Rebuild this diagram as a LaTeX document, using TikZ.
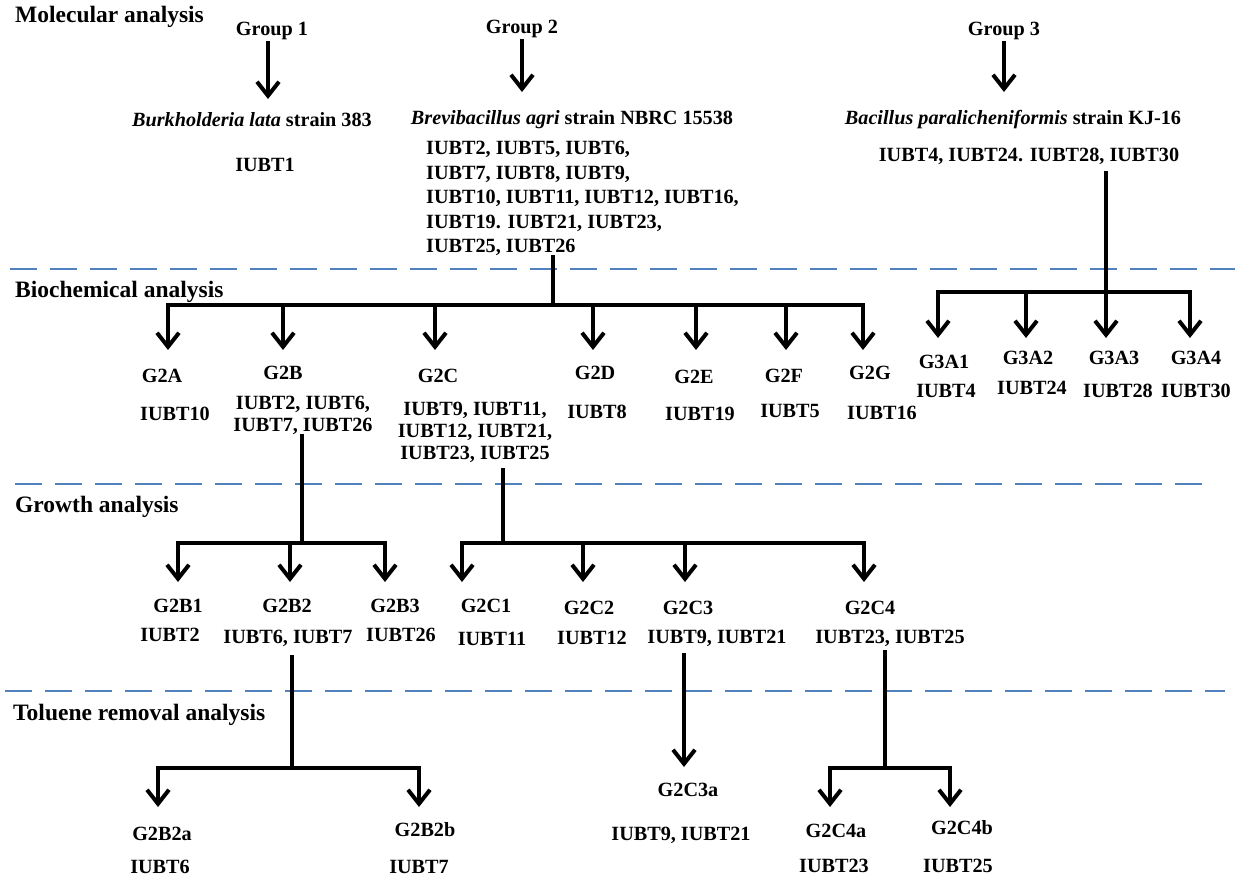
\documentclass[tikz,border=0pt]{standalone}
\usepackage{fontspec}
\setmainfont{Liberation Serif}
\usepackage{tikz}
\usetikzlibrary{arrows.meta, positioning}
\definecolor{sepblue}{RGB}{79,129,189}

\begin{document}
\begin{tikzpicture}[x=1pt, y=-1pt,
      every node/.style={font=\fontsize{20.2}{24}\selectfont\bfseries, inner sep=1pt},
      lb/.style={anchor=base},
      tt/.style={anchor=base west, font=\fontsize{23.5}{27}\selectfont\bfseries},
      ls/.style={anchor=north, align=center, font=\fontsize{20.2}{22}\selectfont\bfseries},
      sep/.style={draw=sepblue, line width=1.6pt, dash pattern=on 27pt off 13pt},
      ln/.style={line width=4pt, line cap=rect},
      ar/.style={line width=4pt, -{Straight Barb[length=14pt, width=22pt]}}]
      \useasboundingbox (0,0) rectangle (1248,877);
      % Separators
      \draw[sep] (10,269) -- (1235,269);
      \draw[sep] (15,484) -- (1205,484);
      \draw[sep] (5,691) -- (1225,691);
      % Section titles
      \node[tt] (mol) at (14,23) {Molecular analysis};
      \node[tt] (bio) at (14,298) {Biochemical analysis};
      \node[tt] (gro) at (14,512) {Growth analysis};
      \node[tt] (tol) at (12,720) {Toluene removal analysis};
      % Molecular analysis
      \node[lb] (grp1) at (272,36) {Group 1};
      \node[lb] (grp2) at (522,34) {Group 2};
      \node[lb] (grp3) at (1004,36) {Group 3};
      \node[lb] (sp1) at (252,127) {\textit{Burkholderia lata} strain 383};
      \node[lb] (sp2) at (572,125) {\textit{Brevibacillus agri} strain NBRC 15538};
      \node[lb] (sp3) at (1013,125) {\textit{Bacillus paralicheniformis} strain KJ-16};
      \node[lb] (iso1) at (265,172) {IUBT1};
      \node[ls, anchor=north west, align=left, font=\fontsize{20.2}{24.5}\selectfont\bfseries] (iso2) at (425,140)
        {IUBT2, IUBT5, IUBT6,\\IUBT7, IUBT8, IUBT9,\\IUBT10, IUBT11, IUBT12, IUBT16,\\IUBT19. IUBT21, IUBT23,\\IUBT25, IUBT26};
      \node[lb] (iso3) at (1029,162) {IUBT4, IUBT24. IUBT28, IUBT30};
      \coordinate (a1) at (268,99); \coordinate (a2) at (522,92); \coordinate (a3) at (1004,92);
      \draw[ar] (grp1.south -| a1) -- (a1);
      \draw[ar] (grp2.south -| a2) -- (a2);
      \draw[ar] (grp3.south -| a3) -- (a3);
      % Biochemical analysis, group 2
      \coordinate (j2) at (553,305);
      \coordinate (t2A) at (168,350); \coordinate (t2B) at (283,350); \coordinate (t2C) at (435,350);
      \coordinate (t2D) at (593,350); \coordinate (t2E) at (696,350); \coordinate (t2F) at (786,350);
      \coordinate (t2G) at (863,350);
      \draw[ln] (iso2.south -| j2) -- (j2);
      \draw[ln] (t2A |- j2) -- (t2G |- j2);
      \draw[ar] (t2A |- j2) -- (t2A); \draw[ar] (t2B |- j2) -- (t2B); \draw[ar] (t2C |- j2) -- (t2C);
      \draw[ar] (t2D |- j2) -- (t2D); \draw[ar] (t2E |- j2) -- (t2E); \draw[ar] (t2F |- j2) -- (t2F);
      \draw[ar] (t2G |- j2) -- (t2G);
      \node[lb] (g2A) at (162,382) {G2A}; \node[lb] (g2B) at (283,380) {G2B};
      \node[lb] (g2C) at (438,382) {G2C}; \node[lb] (g2D) at (595,379) {G2D};
      \node[lb] (g2E) at (694,384) {G2E}; \node[lb] (g2F) at (784,382) {G2F};
      \node[lb] (g2G) at (870,379) {G2G};
      \node[lb] (i2A) at (175,420) {IUBT10};
      \node[ls] (i2B) at (303,395) {IUBT2, IUBT6,\\IUBT7, IUBT26};
      \node[ls] (i2C) at (475,401) {IUBT9, IUBT11,\\IUBT12, IUBT21,\\IUBT23, IUBT25};
      \node[lb] (i2D) at (597,418) {IUBT8}; \node[lb] (i2E) at (700,420) {IUBT19};
      \node[lb] (i2F) at (790,417) {IUBT5}; \node[lb] (i2G) at (882,419) {IUBT16};
      % Biochemical analysis, group 3
      \coordinate (j3) at (1106,292);
      \coordinate (t3A1) at (938,338); \coordinate (t3A2) at (1026,338);
      \coordinate (t3A3) at (1106,338); \coordinate (t3A4) at (1190,338);
      \draw[ln, shorten <=7pt] (iso3.south -| j3) -- (j3);
      \draw[ln] (t3A1 |- j3) -- (t3A4 |- j3);
      \draw[ar] (t3A1 |- j3) -- (t3A1); \draw[ar] (t3A2 |- j3) -- (t3A2);
      \draw[ar] (t3A3 |- j3) -- (t3A3); \draw[ar] (t3A4 |- j3) -- (t3A4);
      \node[lb] (g3A1) at (944,369) {G3A1}; \node[lb] (g3A2) at (1028,365) {G3A2};
      \node[lb] (g3A3) at (1114,364) {G3A3}; \node[lb] (g3A4) at (1196,364) {G3A4};
      \node[lb] (i3A1) at (946,397) {IUBT4}; \node[lb] (i3A2) at (1032,395) {IUBT24};
      \node[lb] (i3A3) at (1118,397) {IUBT28}; \node[lb] (i3A4) at (1196,397) {IUBT30};
      % Growth analysis, G2B
      \coordinate (j2B) at (302,543);
      \coordinate (t2B1) at (178,582); \coordinate (t2B2) at (290,582); \coordinate (t2B3) at (385,582);
      \draw[ln] (i2B.south -| j2B) -- (j2B);
      \draw[ln] (t2B1 |- j2B) -- (t2B3 |- j2B);
      \draw[ar] (t2B1 |- j2B) -- (t2B1); \draw[ar] (t2B2 |- j2B) -- (t2B2);
      \draw[ar] (t2B3 |- j2B) -- (t2B3);
      \node[lb] (g2B1) at (178,612) {G2B1}; \node[lb] (g2B2) at (287,612) {G2B2};
      \node[lb] (g2B3) at (395,612) {G2B3};
      \node[lb] (i2B1) at (170,641) {IUBT2}; \node[lb] (i2B2) at (288,643) {IUBT6, IUBT7};
      \node[lb] (i2B3) at (401,641) {IUBT26};
      % Growth analysis, G2C
      \coordinate (j2C) at (503,543);
      \coordinate (t2C1) at (462,582); \coordinate (t2C2) at (583,582);
      \coordinate (t2C3) at (685,582); \coordinate (t2C4) at (864,582);
      \draw[ln, shorten <=6pt] (i2C.south -| j2C) -- (j2C);
      \draw[ln] (t2C1 |- j2C) -- (t2C4 |- j2C);
      \draw[ar] (t2C1 |- j2C) -- (t2C1); \draw[ar] (t2C2 |- j2C) -- (t2C2);
      \draw[ar] (t2C3 |- j2C) -- (t2C3); \draw[ar] (t2C4 |- j2C) -- (t2C4);
      \node[lb] (g2C1) at (486,612) {G2C1}; \node[lb] (g2C2) at (589,614) {G2C2};
      \node[lb] (g2C3) at (688,614) {G2C3}; \node[lb] (g2C4) at (870,614) {G2C4};
      \node[lb] (i2C1) at (492,645) {IUBT11}; \node[lb] (i2C2) at (592,644) {IUBT12};
      \node[lb] (i2C3) at (717,643) {IUBT9, IUBT21}; \node[lb] (i2C4) at (890,643) {IUBT23, IUBT25};
      % Toluene removal analysis
      \coordinate (j2B2) at (292,768);
      \coordinate (t2B2a) at (158,807); \coordinate (t2B2b) at (419,807);
      \draw[ln, shorten <=10pt] (i2B2.south -| j2B2) -- (j2B2);
      \draw[ln] (t2B2a |- j2B2) -- (t2B2b |- j2B2);
      \draw[ar] (t2B2a |- j2B2) -- (t2B2a); \draw[ar] (t2B2b |- j2B2) -- (t2B2b);
      \coordinate (t2C3a) at (684,767);
      \draw[ar, shorten <=6pt] (i2C3.south -| t2C3a) -- (t2C3a);
      \coordinate (j2C4) at (885,768);
      \coordinate (t2C4a) at (830,807); \coordinate (t2C4b) at (950,807);
      \draw[ln, shorten <=5pt] (i2C4.south -| j2C4) -- (j2C4);
      \draw[ln] (t2C4a |- j2C4) -- (t2C4b |- j2C4);
      \draw[ar] (t2C4a |- j2C4) -- (t2C4a); \draw[ar] (t2C4b |- j2C4) -- (t2C4b);
      \node[lb] (g2B2a) at (162,840) {G2B2a}; \node[lb] (g2B2b) at (425,836) {G2B2b};
      \node[lb] (g2C3a) at (688,796) {G2C3a};
      \node[lb] (g2C4a) at (836,837) {G2C4a}; \node[lb] (g2C4b) at (962,834) {G2C4b};
      \node[lb] (i2B2a) at (160,873) {IUBT6}; \node[lb] (i2B2b) at (419,873) {IUBT7};
      \node[lb] (i2C3a) at (681,840) {IUBT9, IUBT21};
      \node[lb] (i2C4a) at (834,872) {IUBT23}; \node[lb] (i2C4b) at (958,872) {IUBT25};
    \end{tikzpicture}
\end{document}
